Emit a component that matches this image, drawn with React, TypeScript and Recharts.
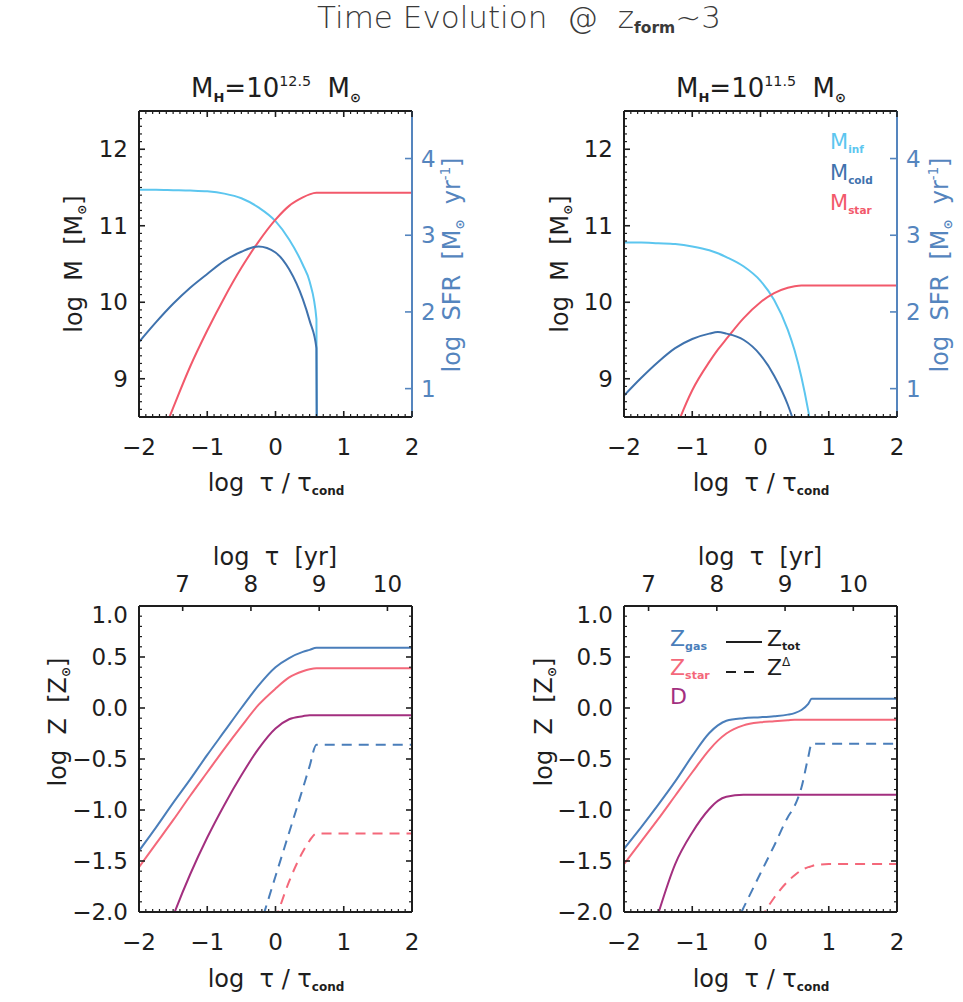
import React from 'react';
import { LineChart, Line, XAxis, YAxis } from 'recharts';

const FONT = "'DejaVu Sans', Lato, sans-serif";
const INK = '#1e1e1e';
const C_INF = '#5cc6ef';
const C_COLD = '#3f72ad';
const C_STAR = '#f2596b';
const C_GAS = '#4a7eba';
const C_ZSTAR = '#f4687a';
const C_DUST = '#a32f7f';
const C_SFR = '#5585be';

// axis ticks
const X_TICKS = [-2, -1, 0, 1, 2];
const M_TICKS = [9, 10, 11, 12];
const SFR_TICKS = [1, 2, 3, 4];
const Z_TICKS = [-2, -1.5, -1, -0.5, 0, 0.5, 1];
const TAU_YR_TICKS = [7, 8, 9, 10];

// top-left: M_H = 10^12.5
const TAU_TL = [-2, -1.75, -1.5, -1.25, -1, -0.75, -0.5, -0.25, 0, 0.2, 0.4, 0.5, 0.6, 0.61, 0.8, 1, 1.5, 2];
const TL_INF = [11.47, 11.47, 11.465, 11.46, 11.45, 11.42, 11.36, 11.24, 11.06, 10.82, 10.49, 10.27, 9.78, 7.0, null, null, null, null];
const TL_COLD = [9.48, 9.74, 9.98, 10.19, 10.37, 10.54, 10.66, 10.73, 10.65, 10.43, 10.04, 9.76, 9.4, 7.0, null, null, null, null];
const TL_STAR = [7.5, 8.06, 8.62, 9.16, 9.63, 10.06, 10.45, 10.79, 11.08, 11.26, 11.37, 11.41, 11.43, 11.43, 11.43, 11.43, 11.43, 11.43];

// top-right: M_H = 10^11.5
const TAU_TR = [-2, -1.75, -1.5, -1.25, -1, -0.75, -0.625, -0.5, -0.25, 0, 0.2, 0.4, 0.5, 0.6, 0.7, 0.8, 1, 1.5, 2];
const TR_INF = [10.78, 10.78, 10.77, 10.76, 10.73, 10.68, 10.64, 10.59, 10.47, 10.28, 10.03, 9.64, 9.37, 9.02, 8.58, 8.05, null, null, null];
const TR_COLD = [8.78, 9.01, 9.22, 9.4, 9.52, 9.59, 9.61, 9.59, 9.51, 9.31, 9.04, 8.66, 8.4, 8.08, null, null, null, null, null];
const TR_STAR = [null, null, 7.65, 8.32, 8.85, 9.22, 9.38, 9.52, 9.79, 10.0, 10.12, 10.19, 10.21, 10.22, 10.22, 10.22, 10.22, 10.22, 10.22];

// bottom-left: metallicities, M_H = 10^12.5
const TAU_BL = [-2, -1.75, -1.5, -1.25, -1, -0.75, -0.5, -0.25, 0, 0.2, 0.4, 0.5, 0.6, 0.8, 1, 1.5, 2];
const BL_GAS = [-1.4, -1.17, -0.93, -0.7, -0.46, -0.23, 0.0, 0.22, 0.4, 0.49, 0.55, 0.57, 0.59, 0.59, 0.59, 0.59, 0.59];
const BL_STAR = [-1.56, -1.33, -1.1, -0.86, -0.63, -0.4, -0.18, 0.03, 0.19, 0.3, 0.36, 0.38, 0.39, 0.39, 0.39, 0.39, 0.39];
const BL_DUST = [null, -2.5, -2.04, -1.63, -1.27, -0.95, -0.66, -0.4, -0.2, -0.11, -0.08, -0.07, -0.07, -0.07, -0.07, -0.07, -0.07];
const BL_GAS_DELTA = [null, null, null, null, null, null, null, -2.19, -1.65, -1.22, -0.79, -0.57, -0.36, -0.36, -0.36, -0.36, -0.36];
const BL_STAR_DELTA = [null, null, null, null, null, null, null, null, -2.08, -1.7, -1.41, -1.3, -1.23, -1.23, -1.23, -1.23, -1.23];

// bottom-right: metallicities, M_H = 10^11.5
const TAU_BR = [-2, -1.75, -1.5, -1.25, -1, -0.75, -0.625, -0.5, -0.25, 0, 0.2, 0.4, 0.5, 0.6, 0.7, 0.75, 0.8, 1, 1.5, 2];
const BR_GAS = [-1.38, -1.17, -0.95, -0.72, -0.47, -0.245, -0.17, -0.125, -0.1, -0.09, -0.08, -0.065, -0.05, -0.02, 0.04, 0.09, 0.09, 0.09, 0.09, 0.09];
const BR_STAR = [-1.53, -1.31, -1.09, -0.86, -0.63, -0.41, -0.32, -0.25, -0.17, -0.14, -0.13, -0.12, -0.115, -0.115, -0.115, -0.115, -0.115, -0.115, -0.115, -0.115];
const BR_DUST = [null, -2.6, -2.02, -1.53, -1.22, -0.99, -0.91, -0.87, -0.85, -0.85, -0.85, -0.85, -0.85, -0.85, -0.85, -0.85, -0.85, -0.85, -0.85, -0.85];
const BR_GAS_DELTA = [null, null, null, null, null, null, null, -2.3, -1.96, -1.62, -1.35, -1.07, -0.96, -0.78, -0.48, -0.35, -0.35, -0.35, -0.35, -0.35];
const BR_STAR_DELTA = [null, null, null, null, null, null, null, null, null, -2.07, -1.86, -1.7, -1.64, -1.59, -1.56, -1.55, -1.54, -1.53, -1.53, -1.53];

// log tau [yr] = log tau/tau_cond + offset
const TAU_OFFSET_BL = 8.36;
const TAU_OFFSET_BR = 8.64;

const minorTicks = (a: number, b: number) => {
  const out: number[] = [];
  for (let i = Math.round(a * 10); i <= Math.round(b * 10); i++) out.push(i / 10);
  return out;
};
const X_MINOR = minorTicks(-2, 2);
const M_MINOR = minorTicks(8.5, 12.5);
const Z_MINOR = minorTicks(-2, 1);

const minus = (s: string) => s.replace('-', '\u2212');
const fmtInt = (v: number) => minus(String(v));
const fmtZ = (v: number) => minus(v.toFixed(1));

// tick mark pointing into the plot, with an optional label outside
const EdgeTick = (props: any) => {
  const { x, y, payload, side, majors, fmt, color = INK, majorLen = 6, minorLen = 3, gap = 0, nudgeTop } = props;
  const v = payload.value as number;
  const major = majors.some((m: number) => Math.abs(m - v) < 1e-6);
  const len = major ? majorLen : minorLen;
  let x2 = x;
  let y2 = y;
  let tx = x;
  let ty = y;
  let anchor = 'middle';
  let dy = '0';
  if (side === 'bottom') {
    y2 = y - len;
    ty = y + gap;
    dy = '0.71em';
  } else if (side === 'top') {
    y2 = y + len;
    ty = y - gap;
  } else if (side === 'left') {
    x2 = x + len;
    tx = x - gap;
    anchor = 'end';
    dy = '0.355em';
  } else {
    x2 = x - len;
    tx = x + gap;
    anchor = 'start';
    dy = '0.355em';
  }
  if (nudgeTop && Math.abs(v - nudgeTop) < 1e-6) ty += 9;
  return (
    <g>
      <line x1={x} y1={y} x2={x2} y2={y2} stroke={color} strokeWidth={major ? 1.6 : 1.2} />
      {major && fmt && (
        <text x={tx} y={ty} dy={dy} textAnchor={anchor} fontSize={23} fill={color} fontFamily={FONT}>
          {fmt(v)}
        </text>
      )}
    </g>
  );
};

interface SeriesDef {
  key: string;
  values: (number | null)[];
  color: string;
  dashed?: boolean;
}

interface PanelProps {
  left: number;
  top: number;
  grid: number[];
  series: SeriesDef[];
  kind: 'mass' | 'metal';
  tauOffset?: number;
}

const axisLine = { stroke: INK, strokeWidth: 2 };

function Panel({ left, top, grid, series, kind, tauOffset = 0 }: PanelProps) {
  const isMass = kind === 'mass';
  const rows = grid.map((x, i) => {
    const r: Record<string, number | null> = { x };
    series.forEach((s) => (r[s.key] = s.values[i]));
    return r;
  });
  const yDomain: [number, number] = isMass ? [8.5, 12.5] : [-2, 1];
  const yTicks = isMass ? M_TICKS : Z_TICKS;
  const yMinor = isMass ? M_MINOR : Z_MINOR;
  const tauPos = TAU_YR_TICKS.map((t) => t - tauOffset);
  const fmtTau = (v: number) => String(Math.round(v + tauOffset));
  const width = isMass ? 403 : 373;
  const height = isMass ? 361 : 401;

  return (
    <div style={{ position: 'absolute', left, top }}>
      <LineChart width={width} height={height} data={rows} margin={{ top: 0, right: 0, bottom: 0, left: 0 }}>
        <XAxis
          xAxisId="x"
          dataKey="x"
          type="number"
          domain={[-2, 2]}
          allowDataOverflow
          ticks={X_MINOR}
          interval={0}
          height={45}
          tickSize={0}
          tickMargin={0}
          axisLine={axisLine}
          tickLine={false}
          tick={<EdgeTick side="bottom" majors={X_TICKS} fmt={fmtInt} gap={22} />}
        />
        {isMass ? (
          <XAxis
            xAxisId="top"
            dataKey="x"
            orientation="top"
            type="number"
            domain={[-2, 2]}
            allowDataOverflow
            ticks={X_MINOR}
            interval={0}
            height={10}
            tickSize={0}
            tickMargin={0}
            axisLine={axisLine}
            tickLine={false}
            tick={<EdgeTick side="top" majors={X_TICKS} />}
          />
        ) : (
          <XAxis
            xAxisId="top"
            dataKey="x"
            orientation="top"
            type="number"
            domain={[-2, 2]}
            allowDataOverflow
            ticks={tauPos}
            interval={0}
            height={50}
            tickSize={0}
            tickMargin={0}
            axisLine={axisLine}
            tickLine={false}
            tick={<EdgeTick side="top" majors={tauPos} fmt={fmtTau} gap={14} majorLen={5} />}
          />
        )}
        <YAxis
          yAxisId="y"
          type="number"
          domain={yDomain}
          allowDataOverflow
          ticks={yMinor}
          interval={0}
          width={90}
          tickSize={0}
          tickMargin={0}
          axisLine={axisLine}
          tickLine={false}
          tick={<EdgeTick side="left" majors={yTicks} fmt={isMass ? fmtInt : fmtZ} gap={11} nudgeTop={isMass ? undefined : 1} />}
        />
        {isMass ? (
          <YAxis
            yAxisId="right"
            orientation="right"
            type="number"
            domain={[0.63, 4.62]}
            allowDataOverflow
            ticks={SFR_TICKS}
            interval={0}
            width={40}
            tickSize={0}
            tickMargin={0}
            axisLine={{ stroke: C_SFR, strokeWidth: 2 }}
            tickLine={false}
            tick={<EdgeTick side="right" majors={SFR_TICKS} fmt={fmtInt} gap={9} color={C_SFR} majorLen={7} />}
          />
        ) : (
          <YAxis
            yAxisId="right"
            orientation="right"
            type="number"
            domain={yDomain}
            allowDataOverflow
            ticks={yMinor}
            interval={0}
            width={10}
            tickSize={0}
            tickMargin={0}
            axisLine={axisLine}
            tickLine={false}
            tick={<EdgeTick side="right" majors={yTicks} />}
          />
        )}

        {series.map((s) => (
          <Line
            key={s.key}
            xAxisId="x"
            yAxisId="y"
            type="monotone"
            dataKey={s.key}
            stroke={s.color}
            strokeWidth={2}
            strokeDasharray={s.dashed ? '10 7' : undefined}
            dot={false}
            activeDot={false}
            isAnimationActive={false}
          />
        ))}
      </LineChart>
    </div>
  );
}

const Sub = ({ children }: { children: React.ReactNode }) => (
  <span style={{ fontSize: '0.5em', fontWeight: 700, position: 'relative', top: '0.35em' }}>{children}</span>
);
const Sup = ({ children }: { children: React.ReactNode }) => (
  <span style={{ fontSize: '0.55em', position: 'relative', top: '-0.75em' }}>{children}</span>
);

interface TxtProps {
  x: number;
  y: number;
  size?: number;
  color?: string;
  rotate?: boolean;
  anchorLeft?: boolean;
  weight?: number;
  children: React.ReactNode;
}

const Txt = ({ x, y, size = 24, color = INK, rotate, anchorLeft, weight = 400, children }: TxtProps) => (
  <div
    style={{
      position: 'absolute',
      left: x,
      top: y,
      transform: `translate(${anchorLeft ? '0' : '-50%'}, -50%)${rotate ? ' rotate(-90deg)' : ''}`,
      fontSize: size,
      fontWeight: weight,
      color,
      fontFamily: FONT,
      whiteSpace: 'nowrap',
      lineHeight: 1,
    }}
  >
    {children}
  </div>
);

const SUN = '\u2299';
const TAU = '\u03c4';

const MassTitle = ({ exp }: { exp: string }) => (
  <>
    M<Sub>H</Sub>=10<Sup>{exp}</Sup>&nbsp;&nbsp;M<Sub>{SUN}</Sub>
  </>
);
const TauCond = () => (
  <>
    log&nbsp;&nbsp;{TAU}&nbsp;/&nbsp;{TAU}<Sub>cond</Sub>
  </>
);

const Sample = ({ dashed }: { dashed?: boolean }) => (
  <svg width={36} height={4} style={{ display: 'block' }}>
    <line x1={0} y1={2} x2={36} y2={2} stroke={INK} strokeWidth={2} strokeDasharray={dashed ? '10 8' : undefined} />
  </svg>
);

export default function App() {
  return (
    <div style={{ position: 'absolute', left: 0, top: 0, width: 963, height: 1002, background: '#fff', overflow: 'hidden' }}>
      <Panel
        left={49}
        top={101}
        grid={TAU_TL}
        kind="mass"
        series={[
          { key: 'inf', values: TL_INF, color: C_INF },
          { key: 'star', values: TL_STAR, color: C_STAR },
          { key: 'cold', values: TL_COLD, color: C_COLD },
        ]}
      />
      <Panel
        left={534}
        top={101}
        grid={TAU_TR}
        kind="mass"
        series={[
          { key: 'inf', values: TR_INF, color: C_INF },
          { key: 'star', values: TR_STAR, color: C_STAR },
          { key: 'cold', values: TR_COLD, color: C_COLD },
        ]}
      />
      <Panel
        left={49}
        top={556}
        grid={TAU_BL}
        kind="metal"
        tauOffset={TAU_OFFSET_BL}
        series={[
          { key: 'gasD', values: BL_GAS_DELTA, color: C_GAS, dashed: true },
          { key: 'starD', values: BL_STAR_DELTA, color: C_ZSTAR, dashed: true },
          { key: 'dust', values: BL_DUST, color: C_DUST },
          { key: 'star', values: BL_STAR, color: C_ZSTAR },
          { key: 'gas', values: BL_GAS, color: C_GAS },
        ]}
      />
      <Panel
        left={534}
        top={556}
        grid={TAU_BR}
        kind="metal"
        tauOffset={TAU_OFFSET_BR}
        series={[
          { key: 'gasD', values: BR_GAS_DELTA, color: C_GAS, dashed: true },
          { key: 'starD', values: BR_STAR_DELTA, color: C_ZSTAR, dashed: true },
          { key: 'dust', values: BR_DUST, color: C_DUST },
          { key: 'star', values: BR_STAR, color: C_ZSTAR },
          { key: 'gas', values: BR_GAS, color: C_GAS },
        ]}
      />

      <Txt x={519} y={17} size={31} color="#3a3a3a" weight={200}>
        Time Evolution&nbsp;&nbsp;@&nbsp;&nbsp;z<Sub>form</Sub>~3
      </Txt>

      <Txt x={276} y={88} size={26}><MassTitle exp="12.5" /></Txt>
      <Txt x={761} y={88} size={26}><MassTitle exp="11.5" /></Txt>

      <Txt x={276} y={483}><TauCond /></Txt>
      <Txt x={761} y={483}><TauCond /></Txt>
      <Txt x={276} y={979}><TauCond /></Txt>
      <Txt x={761} y={979}><TauCond /></Txt>

      <Txt x={275} y={557}>log&nbsp;&nbsp;{TAU}&nbsp;&nbsp;[yr]</Txt>
      <Txt x={760} y={557}>log&nbsp;&nbsp;{TAU}&nbsp;&nbsp;[yr]</Txt>

      <Txt x={74} y={264} rotate>log&nbsp;&nbsp;M&nbsp;&nbsp;[M<Sub>{SUN}</Sub>]</Txt>
      <Txt x={560} y={264} rotate>log&nbsp;&nbsp;M&nbsp;&nbsp;[M<Sub>{SUN}</Sub>]</Txt>
      <Txt x={452} y={265} rotate color={C_SFR}>log&nbsp;&nbsp;SFR&nbsp;&nbsp;[M<Sub>{SUN}</Sub>&nbsp;&nbsp;yr<Sup>-1</Sup>]</Txt>
      <Txt x={940} y={265} rotate color={C_SFR}>log&nbsp;&nbsp;SFR&nbsp;&nbsp;[M<Sub>{SUN}</Sub>&nbsp;&nbsp;yr<Sup>-1</Sup>]</Txt>
      <Txt x={58} y={722} rotate>log&nbsp;&nbsp;Z&nbsp;&nbsp;[Z<Sub>{SUN}</Sub>]</Txt>
      <Txt x={544} y={722} rotate>log&nbsp;&nbsp;Z&nbsp;&nbsp;[Z<Sub>{SUN}</Sub>]</Txt>

      {/* legend, top-right panel */}
      <Txt x={830} y={142} size={21} color={C_INF} anchorLeft>M<Sub>inf</Sub></Txt>
      <Txt x={830} y={173} size={21} color={C_COLD} anchorLeft>M<Sub>cold</Sub></Txt>
      <Txt x={830} y={203} size={21} color={C_STAR} anchorLeft>M<Sub>star</Sub></Txt>

      {/* legend, bottom-right panel */}
      <Txt x={670} y={639} size={22} color={C_GAS} anchorLeft>Z<Sub>gas</Sub></Txt>
      <Txt x={670} y={668} size={22} color={C_ZSTAR} anchorLeft>Z<Sub>star</Sub></Txt>
      <Txt x={670} y={697} size={22} color={C_DUST} anchorLeft>D</Txt>
      <div style={{ position: 'absolute', left: 726, top: 640 }}><Sample /></div>
      <div style={{ position: 'absolute', left: 726, top: 670 }}><Sample dashed /></div>
      <Txt x={767} y={639} size={22} anchorLeft>Z<Sub>tot</Sub></Txt>
      <Txt x={767} y={668} size={22} anchorLeft>Z<Sup>{'\u0394'}</Sup></Txt>
    </div>
  );
}
